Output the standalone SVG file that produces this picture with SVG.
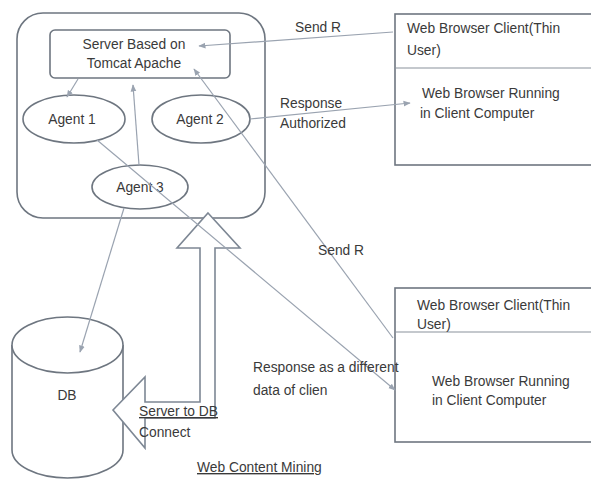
<svg xmlns="http://www.w3.org/2000/svg" width="591" height="481" viewBox="0 0 591 481">
<defs>
<style>
text{font-family:"Liberation Sans",Arial,sans-serif;font-size:13.8px;fill:#3a3a3a}
.c{text-anchor:middle}
.box{fill:#fff;stroke:#6e7680;stroke-width:1.6}
.ln{stroke:#9aa3b0;stroke-width:1.2;fill:none}
.u{text-decoration:underline}
</style>
<marker id="ah" viewBox="0 0 10 10" refX="9" refY="5" markerWidth="6" markerHeight="6" orient="auto">
<path d="M0,1 L10,5 L0,9 z" fill="#9aa3b0"/>
</marker>
</defs>
<rect width="591" height="481" fill="#fff"/>

<g id="server-container">
<rect x="17" y="13" width="248" height="205" rx="26" class="box" stroke-width="2"/>
</g>
<g id="server">
<rect x="50" y="30" width="180" height="48" rx="5" class="box"/>
<text x="134" y="49" class="c">Server Based on</text>
<text x="134" y="68" class="c">Tomcat Apache</text>
</g>
<g id="agent1">
<ellipse cx="74" cy="119" rx="51" ry="24" class="box"/>
<text x="72" y="124" class="c">Agent 1</text>
</g>
<g id="agent2">
<ellipse cx="201" cy="119" rx="49" ry="24" class="box"/>
<text x="200" y="124" class="c">Agent 2</text>
</g>
<g id="agent3">
<ellipse cx="140" cy="187" rx="48" ry="22" class="box"/>
<text x="140" y="192" class="c">Agent 3</text>
</g>
<g id="client1">
<rect x="395" y="14" width="215" height="151" class="box"/>
<line x1="395" y1="68" x2="591" y2="68" stroke="#8a929c" stroke-width="1.2"/>
<text x="407" y="33">Web Browser Client(Thin</text>
<text x="407" y="55">User)</text>
<text x="422" y="98">Web Browser Running</text>
<text x="420" y="118">in Client Computer</text>
</g>
<g id="client2">
<rect x="395" y="288" width="215" height="154" class="box"/>
<line x1="395" y1="332" x2="591" y2="332" stroke="#8a929c" stroke-width="1.2"/>
<text x="417" y="310">Web Browser Client(Thin</text>
<text x="417" y="329">User)</text>
<text x="432" y="386">Web Browser Running</text>
<text x="432" y="405">in Client Computer</text>
</g>
<g id="db">
<path d="M12,345 V450 A55.5,28 0 0 0 123,450 V345" class="box"/>
<ellipse cx="67.5" cy="345" rx="55.5" ry="28" class="box"/>
<text x="67" y="400" class="c">DB</text>
</g>
<g id="server-db-arrow">
<polygon points="208,213 240,248 215,248 215,418 145,418 145,448 113,410 145,377 145,402 200,402 200,248 177,248" fill="#fff" stroke="#7d8794" stroke-width="1.6" stroke-linejoin="miter"/>
<text x="139" y="416" class="u">Server to DB</text>
<text x="139" y="437">Connect</text>
</g>

<g id="connectors">
<line x1="78" y1="79" x2="67" y2="97" class="ln" marker-end="url(#ah)"/>
<line x1="139" y1="165" x2="133" y2="85" class="ln" marker-end="url(#ah)"/>
<line x1="393" y1="32" x2="199" y2="46" class="ln" marker-end="url(#ah)"/>
<line x1="250" y1="119" x2="410" y2="103" class="ln" marker-end="url(#ah)"/>
<line x1="393" y1="338" x2="194" y2="69" class="ln" marker-end="url(#ah)"/>
<line x1="97" y1="140" x2="395" y2="390" class="ln" marker-end="url(#ah)"/>
<line x1="124" y1="208" x2="80" y2="352" class="ln" marker-end="url(#ah)"/>
</g>

<g id="labels">
<text x="295" y="32">Send R</text>
<text x="280" y="108">Response</text>
<text x="280" y="128">Authorized</text>
<text x="318" y="255">Send R</text>
<text x="253" y="372">Response as a different</text>
<text x="253" y="395">data of clien</text>
<text x="197" y="472" class="u">Web Content Mining</text>
</g>
</svg>
